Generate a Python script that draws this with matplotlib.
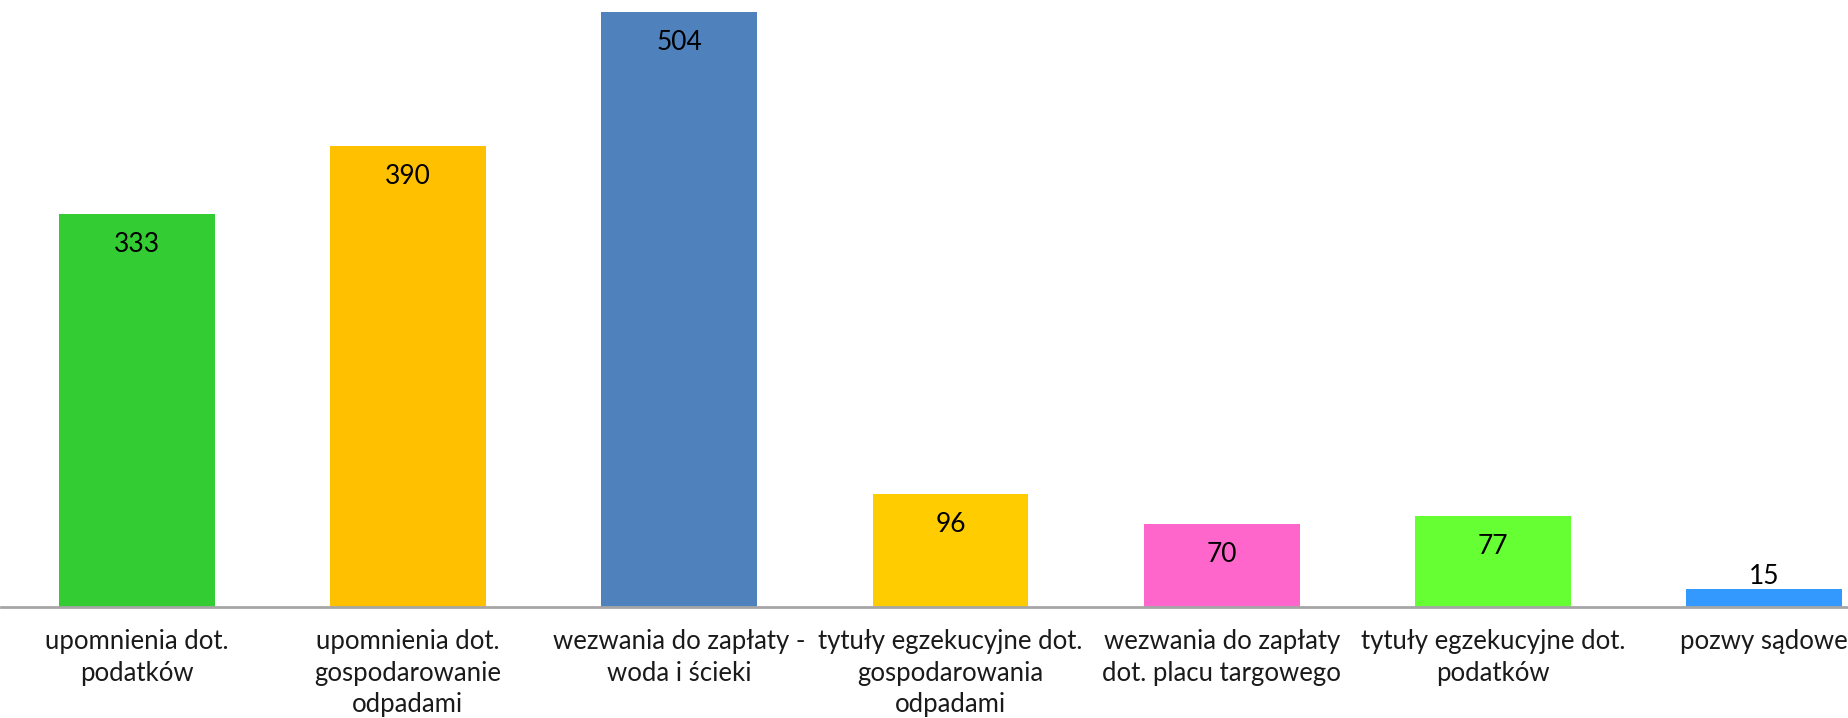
import matplotlib
matplotlib.use("Agg")
import matplotlib.pyplot as plt

categories = [
    "upomnienia dot.\npodatków",
    "upomnienia dot.\ngospodarowanie\nodpadami",
    "wezwania do zapłaty -\nwoda i ścieki",
    "tytuły egzekucyjne dot.\ngospodarowania\nodpadami",
    "wezwania do zapłaty\ndot. placu targowego",
    "tytuły egzekucyjne dot.\npodatków",
    "pozwy sądowe",
]
values = [333, 390, 504, 96, 70, 77, 15]
colors = ["#33CC33", "#FFC000", "#4F81BD", "#FFCC00", "#FF66CC", "#66FF33", "#3399FF"]

plt.rcParams['font.family'] = ['Lato', 'DejaVu Sans']

W, H = 1848, 718
fig = plt.figure(figsize=(W / 100, H / 100), dpi=100)
# plot area extends beyond the right edge (clipped as in the reference)
ax_left = 1 / W
ax_width = 1899 / W
ax_bottom = 1 - 607 / H
ax_height = 607 / H
ax = fig.add_axes([ax_left, ax_bottom, ax_width, ax_height])

x = list(range(len(values)))
bars = ax.bar(x, values, width=0.575, color=colors, zorder=2)
ax.set_xlim(-0.5, len(values) - 0.5)
ax.set_ylim(0, 514)

for spine in ["top", "right", "left"]:
    ax.spines[spine].set_visible(False)
ax.spines["bottom"].set_color("#A6A6A6")
ax.spines["bottom"].set_linewidth(2)
ax.set_yticks([])
ax.set_xticks(x)
ax.set_xticklabels(categories, fontsize=18.5, color="#1a1a1a", linespacing=1.33)
ax.tick_params(axis="x", length=0, pad=16)

for xi, v in zip(x, values):
    if v > 40:
        ax.annotate(str(v), (xi, v), xytext=(0, -22), textcoords="offset points",
                    ha="center", va="center", fontsize=19, color="black")
    else:
        ax.annotate(str(v), (xi, v), xytext=(0, 0), textcoords="offset points",
                    ha="center", va="bottom", fontsize=19, color="black")

fig.savefig("out.png", dpi=100)
